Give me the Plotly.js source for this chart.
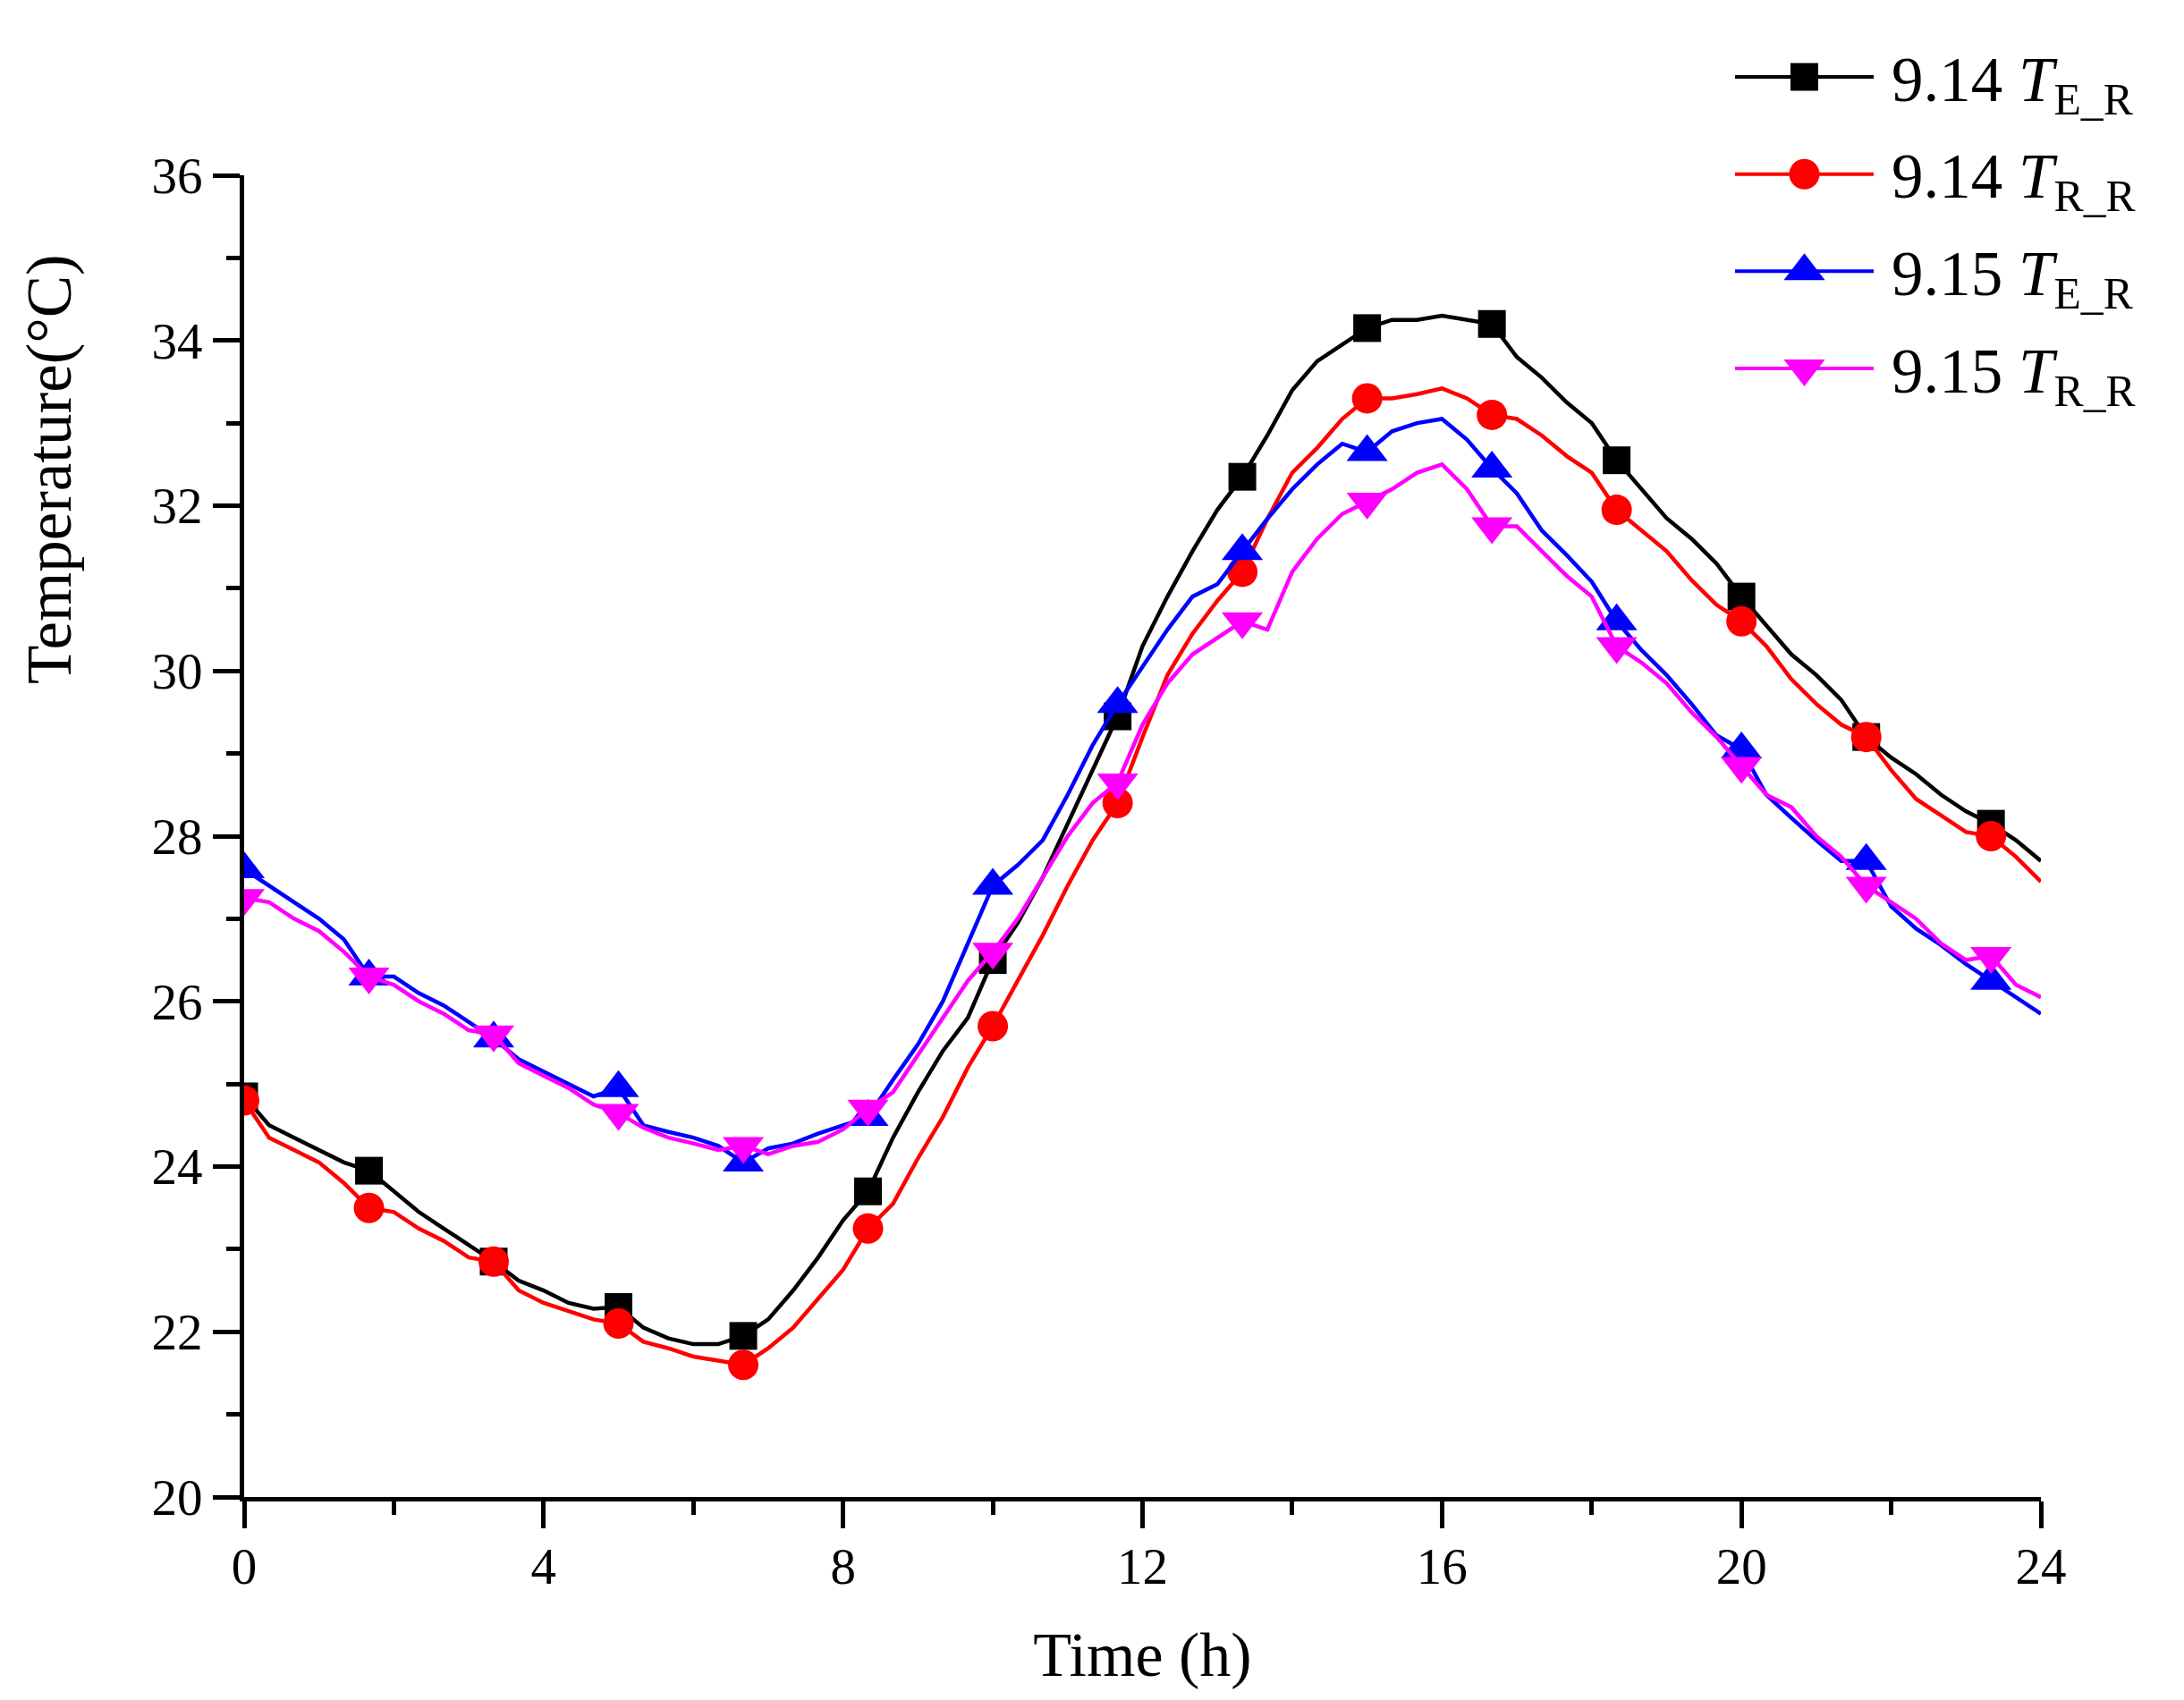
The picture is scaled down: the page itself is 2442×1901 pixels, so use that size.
<!DOCTYPE html>
<html>
<head>
<meta charset="utf-8">
<script src="https://cdn.plot.ly/plotly-3.0.1.min.js"></script>
<style>html,body{margin:0;padding:0;background:#fff;}#chart{width:2442px;height:1901px;}</style>
</head>
<body>
<div id="chart"></div>
<script>
// Time axis: every 20 minutes (h)
const timeH = [0,0.333,0.667,1,1.333,1.667,2,2.333,2.667,3,3.333,3.667,4,4.333,4.667,5,5.333,5.667,6,6.333,6.667,7,7.333,7.667,8,8.333,8.667,9,9.333,9.667,10,10.333,10.667,11,11.333,11.667,12,12.333,12.667,13,13.333,13.667,14,14.333,14.667,15,15.333,15.667,16,16.333,16.667,17,17.333,17.667,18,18.333,18.667,19,19.333,19.667,20,20.333,20.667,21,21.333,21.667,22,22.333,22.667,23,23.333,23.667,24];

// 9.14 T_E_R
const t914ER = [24.85,24.5,24.35,24.2,24.05,23.95,23.7,23.45,23.25,23.05,22.85,22.62,22.5,22.35,22.28,22.3,22.05,21.92,21.85,21.85,21.95,22.15,22.5,22.9,23.35,23.7,24.35,24.9,25.4,25.8,26.5,26.95,27.5,28.15,28.8,29.45,30.3,30.9,31.45,31.95,32.35,32.85,33.4,33.75,33.95,34.15,34.25,34.25,34.3,34.25,34.2,33.8,33.55,33.25,33.0,32.55,32.2,31.85,31.6,31.3,30.9,30.55,30.2,29.95,29.65,29.2,28.95,28.75,28.5,28.3,28.15,27.95,27.7];
// 9.14 T_R_R
const t914RR = [24.8,24.35,24.2,24.05,23.8,23.5,23.45,23.25,23.1,22.9,22.85,22.5,22.35,22.25,22.15,22.1,21.88,21.8,21.7,21.65,21.6,21.8,22.05,22.4,22.75,23.25,23.55,24.1,24.6,25.2,25.7,26.25,26.8,27.4,27.95,28.4,29.2,29.95,30.45,30.85,31.2,31.84,32.4,32.7,33.05,33.3,33.3,33.35,33.42,33.3,33.1,33.05,32.85,32.6,32.4,31.95,31.7,31.45,31.1,30.8,30.6,30.3,29.9,29.6,29.35,29.2,28.8,28.45,28.25,28.05,28.0,27.75,27.45];
// 9.15 T_E_R
const t915ER = [27.6,27.4,27.2,27.0,26.75,26.3,26.3,26.1,25.95,25.75,25.55,25.3,25.15,25.0,24.85,24.95,24.5,24.42,24.35,24.25,24.05,24.22,24.28,24.4,24.5,24.6,25.05,25.48,26.0,26.7,27.4,27.65,27.95,28.5,29.1,29.6,30.05,30.5,30.9,31.05,31.45,31.84,32.2,32.5,32.75,32.65,32.9,33.0,33.05,32.8,32.45,32.15,31.7,31.4,31.08,30.6,30.25,29.95,29.6,29.22,29.05,28.5,28.22,27.95,27.7,27.7,27.15,26.88,26.68,26.45,26.25,26.05,25.85];
// 9.15 T_R_R
const t915RR = [27.25,27.2,27.0,26.85,26.6,26.3,26.2,26.0,25.85,25.65,25.6,25.25,25.1,24.95,24.75,24.65,24.47,24.35,24.28,24.2,24.25,24.15,24.25,24.3,24.45,24.7,24.9,25.34,25.8,26.25,26.6,27.0,27.5,28.0,28.4,28.65,29.35,29.85,30.2,30.4,30.6,30.5,31.2,31.6,31.9,32.05,32.2,32.4,32.5,32.2,31.75,31.75,31.45,31.15,30.9,30.3,30.1,29.85,29.5,29.2,28.85,28.5,28.35,28.0,27.75,27.4,27.2,27.0,26.7,26.5,26.55,26.2,26.05];

const seriesNames = ['9.14 <i>T</i><sub>E_R</sub>','9.14 <i>T</i><sub>R_R</sub>','9.15 <i>T</i><sub>E_R</sub>','9.15 <i>T</i><sub>R_R</sub>'];
const seriesData = [t914ER, t914RR, t915ER, t915RR];

const xTickVals = [0,4,8,12,16,20,24];
const yTickVals = [20,22,24,26,28,30,32,34,36];
const xTitle = 'Time (h)';
const yTitle = 'Temperature(°C)';

// styles
const colors = ['#000000','#ff0000','#0000ff','#ff00ff'];
const symbols = ['square','circle','triangle-up','triangle-down'];
const msizes = [31,34,40,40];
const FONT = 'Liberation Serif, Times New Roman, serif';

const traces = [];
seriesData.forEach((ys, k) => {
  traces.push({
    type: 'scatter', mode: 'lines+markers', name: seriesNames[k],
    x: timeH, y: ys, showlegend: false, hoverinfo: 'skip',
    line: {color: colors[k], width: 4.5},
    marker: {symbol: symbols[k], color: colors[k], opacity: 1,
             size: timeH.map((t, i) => (i % 5 === 0 ? msizes[k] : 0)), line: {width: 0}}
  });
});

// Legend samples on an auxiliary axis
const H = 1901, T = 40, B = 227;
const plotH = H - T - B;
const yTop = (1674 - 196) / plotH;

const annotations = [];
seriesNames.forEach((nm, k) => {
  traces.push({
    type: 'scatter', mode: 'lines', x: [0, 1], y: [k, k], xaxis: 'x2', yaxis: 'y2',
    line: {color: colors[k], width: 4}, showlegend: false, hoverinfo: 'skip', cliponaxis: false
  });
  traces.push({
    type: 'scatter', mode: 'markers', x: [0.5], y: [k], xaxis: 'x2', yaxis: 'y2',
    marker: {symbol: symbols[k], color: colors[k], size: msizes[k], opacity: 1}, showlegend: false, hoverinfo: 'skip', cliponaxis: false
  });
  annotations.push({
    xref: 'paper', yref: 'y2', x: 0.9159, y: k, xanchor: 'left', yanchor: 'middle', yshift: -8,
    text: nm, showarrow: false, font: {family: FONT, size: 71, color: '#000'}
  });
});

// y-axis title (placed high, as in the reference)
annotations.push({
  xref: 'paper', yref: 'paper', x: (55 - 273) / 2009, y: (1674 - 525) / plotH,
  xanchor: 'center', yanchor: 'middle', textangle: -90, showarrow: false,
  text: yTitle, font: {family: FONT, size: 71, color: '#000'}
});

const axisCommon = {
  showline: true, linecolor: '#000', linewidth: 5, ticks: 'outside', ticklen: 30, tickwidth: 5, tickcolor: '#000',
  showgrid: false, zeroline: false, mirror: false,
  tickfont: {family: FONT, size: 57, color: '#000'}
};

const layout = {
  width: 2442, height: 1901,
  margin: {l: 273, r: 160, t: T, b: B, autoexpand: false},
  paper_bgcolor: '#fff', plot_bgcolor: '#fff',
  showlegend: false,
  font: {family: FONT, color: '#000'},
  xaxis: Object.assign({}, axisCommon, {
    range: [0, 24], tickvals: xTickVals, domain: [0, 1], anchor: 'y',
    ticklabelstandoff: -6,
    minor: {dtick: 2, tick0: 0, ticks: 'outside', ticklen: 15, tickwidth: 5, tickcolor: '#000', showgrid: false},
    title: {text: xTitle, font: {family: FONT, size: 70, color: '#000'}, standoff: 44},
    automargin: false
  }),
  yaxis: Object.assign({}, axisCommon, {
    range: [20, 36], tickvals: yTickVals, domain: [0, yTop], anchor: 'x',
    minor: {dtick: 1, tick0: 20, ticks: 'outside', ticklen: 15, tickwidth: 5, tickcolor: '#000', showgrid: false},
    automargin: false
  }),
  xaxis2: {domain: [(1940 - 273) / 2009, (2095 - 273) / 2009], range: [0, 1], anchor: 'y2', visible: false, fixedrange: true},
  yaxis2: {domain: [(1674 - 460) / plotH, 1], range: [(460 - 86) / 108.67, (40 - 86) / 108.67], anchor: 'x2', visible: false, fixedrange: true},
  annotations: annotations
};

Plotly.newPlot('chart', traces, layout, {staticPlot: true, displayModeBar: false});
</script>
</body>
</html>
